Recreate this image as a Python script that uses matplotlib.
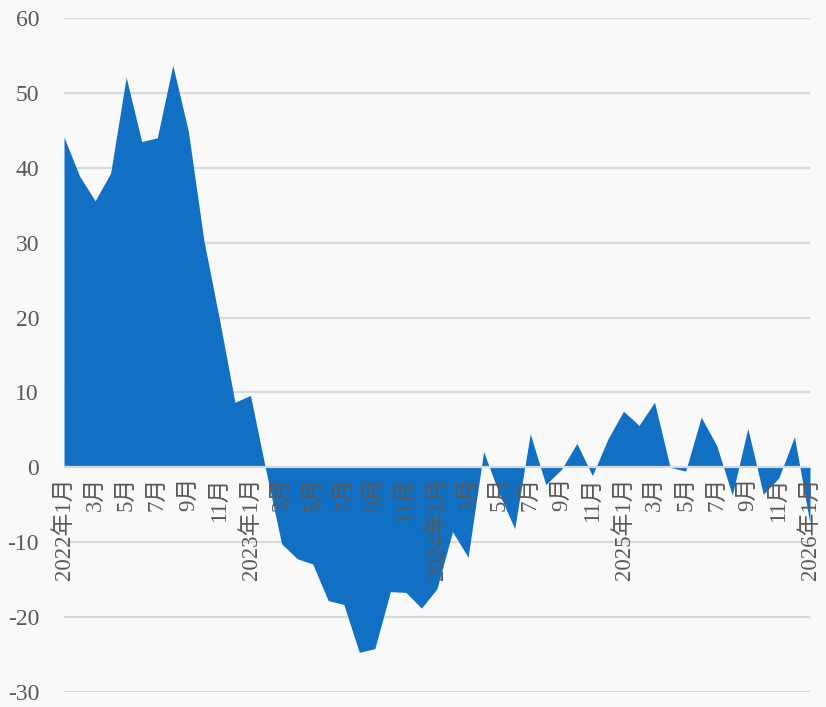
import matplotlib.pyplot as plt
import numpy as np

# monthly values, 2022-01 .. 2026-01
years = [2022] * 12 + [2023] * 12 + [2024] * 12 + [2025] * 12 + [2026]
months = list(range(1, 13)) * 4 + [1]
values = [
    44.1, 38.9, 35.6, 39.3, 52.1, 43.5, 44.0, 53.7, 44.9, 30.3, 19.8, 8.7,
    9.6, -0.5, -10.2, -12.2, -12.9, -17.8, -18.3, -24.7, -24.2, -16.6, -16.7, -18.8,
    -16.2, -8.6, -12.0, 2.1, -3.5, -8.2, 4.5, -2.3, -0.3, 3.2, -1.1, 3.8,
    7.5, 5.6, 8.7, 0.0, -0.5, 6.7, 2.9, -3.7, 5.2, -3.6, -1.4, 4.1,
    -7.5,
]
y_ticks = [-30, -20, -10, 0, 10, 20, 30, 40, 50, 60]

labels = []
for y, m in zip(years, months):
    labels.append(f"{y}年{m}月" if m == 1 else f"{m}月")

font = ['Liberation Serif', 'Noto Sans CJK SC']
grey = '#595959'
bg = '#f9f9f9'

fig = plt.figure(figsize=(8.26, 7.07), dpi=100, facecolor=bg)
ax = fig.add_axes([0.0775, 0.0212, 0.9031, 0.9533])
ax.set_facecolor(bg)

x = np.arange(len(values))
ax.fill_between(x, values, 0, color='#1170c4', lw=0, zorder=2)

for t in y_ticks:
    ax.axhline(t, color='#d9d9d9', lw=1.6, zorder=1 if t != 0 else 3)

ax.set_xlim(0, len(values) - 1)
ax.set_ylim(-30, 60)
ax.set_yticks(y_ticks)
ax.set_yticklabels([str(t) for t in y_ticks], family=font, fontsize=17, color=grey)
ax.tick_params(axis='y', length=0, pad=18)
ax.set_xticks([])
for s in ax.spines.values():
    s.set_visible(False)

for i in range(0, len(values), 2):
    ax.annotate(labels[i], xy=(i, 0), xytext=(0, -7), textcoords='offset points',
                rotation=90, ha='center', va='top', family=font, fontsize=16.5,
                color=grey, zorder=4)

fig.savefig('out.png', dpi=100, facecolor=bg)
